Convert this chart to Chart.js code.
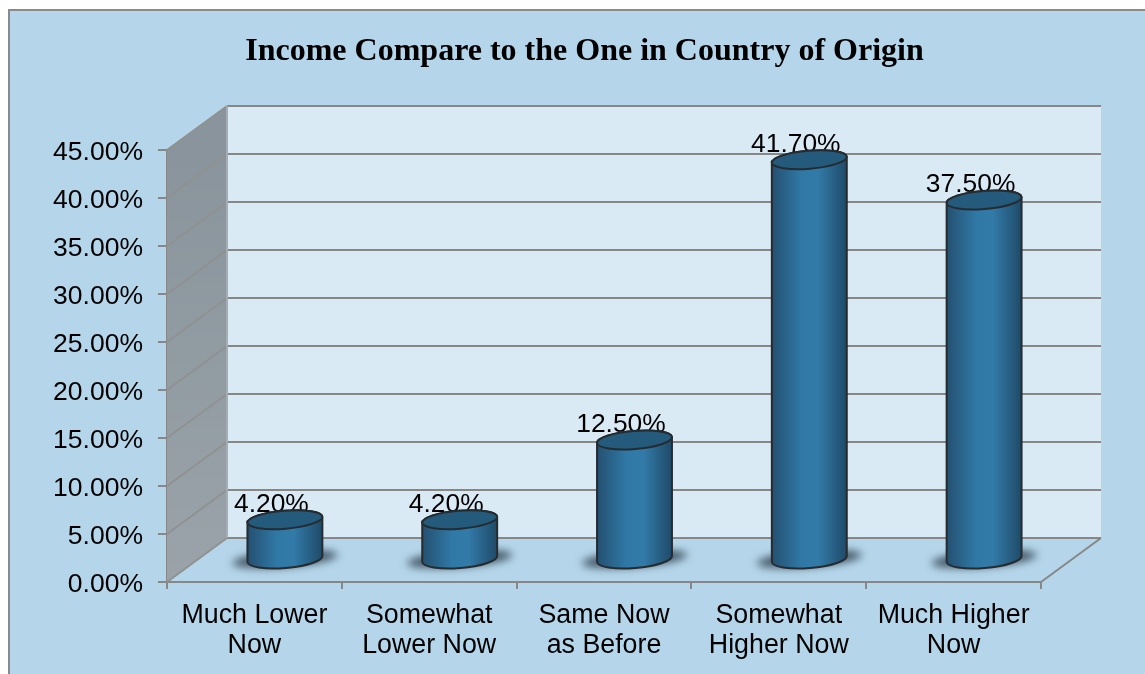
<!DOCTYPE html>
<html>
<head>
<meta charset="utf-8">
<script src="https://cdn.jsdelivr.net/npm/chart.js@4"></script>
<style>
html, body { margin: 0; background: #fff; overflow: hidden; height: 100%; }
#frame { position: absolute; left: 8px; top: 9px; width: 1149px; height: 663px; background: #b5d6ea; border-left: 2px solid #8a8a8a; border-top: 2px solid #8a8a8a; }
</style>
</head>
<body>
<div id="frame"><canvas id="incomeChart" width="1149" height="663"></canvas></div>
<script>
const categories = [['Much Lower', 'Now'], ['Somewhat', 'Lower Now'], ['Same Now', 'as Before'], ['Somewhat', 'Higher Now'], ['Much Higher', 'Now']];
const incomeValues = [4.2, 4.2, 12.5, 41.7, 37.5];
const chartTitle = 'Income Compare to the One in Country of Origin';

const depthX = 60;
const depthY = 44;
const lineColor = '#878787';

// title is centred on the whole canvas, not on the padded area
const titlePlugin = {
    id: 'titleSpan',
    afterLayout(chart) {
        chart.titleBlock.left = 0;
        chart.titleBlock.right = chart.width;
    }
};

// back wall, side wall and floor, using the axis pixels
const wallsPlugin = {
    id: 'walls',
    beforeDatasetsDraw(chart) {
        const ctx = chart.ctx;
        const x = chart.scales.x;
        const y = chart.scales.y;
        const top = y.getPixelForValue(45);
        const bottom = y.getPixelForValue(0);
        ctx.save();
        ctx.fillStyle = '#daeaf5';
        ctx.fillRect(x.left + depthX, top - depthY, x.width, bottom - top);

        const side = ctx.createLinearGradient(0, top, 0, bottom);
        side.addColorStop(0, '#89949c');
        side.addColorStop(1, '#9aa3a9');
        ctx.fillStyle = side;
        ctx.beginPath();
        ctx.moveTo(x.left, bottom);
        ctx.lineTo(x.left + depthX, bottom - depthY);
        ctx.lineTo(x.left + depthX, top - depthY);
        ctx.lineTo(x.left, top);
        ctx.closePath();
        ctx.fill();

        ctx.lineWidth = 2;
        y.ticks.forEach(function (t) {
            const py = y.getPixelForValue(t.value);
            ctx.strokeStyle = '#8f9290';
            ctx.beginPath();
            ctx.moveTo(x.left, py);
            ctx.lineTo(x.left + depthX, py - depthY);
            ctx.stroke();
            ctx.strokeStyle = lineColor;
            ctx.beginPath();
            ctx.moveTo(x.left + depthX, py - depthY);
            ctx.lineTo(x.right + depthX, py - depthY);
            ctx.stroke();
        });
        ctx.strokeStyle = '#a4adb3';
        ctx.beginPath();
        ctx.moveTo(x.left + depthX, top - depthY);
        ctx.lineTo(x.left + depthX, bottom - depthY);
        ctx.stroke();
        ctx.strokeStyle = lineColor;
        ctx.beginPath();
        ctx.moveTo(x.right, bottom);
        ctx.lineTo(x.right + depthX, bottom - depthY);
        ctx.stroke();
        ctx.restore();
    }
};

// cylinders sit halfway into the floor depth
const cylinderPlugin = {
    id: 'cylinders',
    afterDatasetsDraw(chart) {
        const ctx = chart.ctx;
        const bars = chart.getDatasetMeta(0).data;
        const tilt = -4.6 * Math.PI / 180;
        const ry = 9;
        ctx.save();

        bars.forEach(function (bar) {
            const cx = bar.x + depthX / 2 + 0.5;
            const baseY = bar.base - depthY / 2;
            ctx.save();
            ctx.filter = 'blur(4px)';
            ctx.fillStyle = 'rgba(25,40,55,0.75)';
            ctx.beginPath();
            ctx.ellipse(cx, baseY, bar.width * 0.7, 8, tilt, 0, Math.PI * 2);
            ctx.fill();
            ctx.restore();
        });

        ctx.font = '26.4px "Liberation Sans"';
        ctx.fillStyle = '#000';
        ctx.textAlign = 'center';
        ctx.textBaseline = 'alphabetic';
        bars.forEach(function (bar, i) {
            const cx = bar.x + depthX / 2 + 0.5;
            const topY = bar.y - depthY / 2;
            ctx.fillText(incomeValues[i].toFixed(2) + '%', cx - 13.5, topY - 8);
        });

        bars.forEach(function (bar) {
            const cx = bar.x + depthX / 2 + 0.5;
            const baseY = bar.base - depthY / 2;
            const topY = bar.y - depthY / 2;
            const rx = bar.width / 2;
            const body = ctx.createLinearGradient(cx - rx, 0, cx + rx, 0);
            body.addColorStop(0, '#245070');
            body.addColorStop(0.4, '#3079a7');
            body.addColorStop(0.62, '#327aa8');
            body.addColorStop(1, '#1f4a68');
            ctx.fillStyle = body;
            ctx.strokeStyle = '#262b30';
            ctx.lineWidth = 2;
            ctx.beginPath();
            ctx.ellipse(cx, baseY, rx, ry, tilt, 0, Math.PI);
            ctx.ellipse(cx, topY, rx, ry, tilt, Math.PI, Math.PI * 2);
            ctx.closePath();
            ctx.fill();
            ctx.stroke();
            ctx.fillStyle = '#245b7c';
            ctx.beginPath();
            ctx.ellipse(cx, topY, rx, ry, tilt, 0, Math.PI * 2);
            ctx.fill();
            ctx.stroke();
        });
        ctx.restore();
    }
};

new Chart(document.getElementById('incomeChart'), {
    type: 'bar',
    data: {
        labels: categories,
        datasets: [{
            label: 'Income',
            data: incomeValues,
            backgroundColor: 'transparent',
            borderWidth: 0,
            barPercentage: 0.43,
            categoryPercentage: 1
        }]
    },
    options: {
        responsive: false,
        animation: false,
        layout: { padding: { right: 118 } },
        scales: {
            x: {
                afterFit: function (s) { s.height = 92; },
                border: { color: lineColor, width: 2 },
                grid: { drawOnChartArea: false, color: lineColor, lineWidth: 2, tickLength: 7, offset: true },
                ticks: {
                    color: '#000',
                    maxRotation: 0,
                    autoSkip: false,
                    padding: 12,
                    font: { family: '"Liberation Sans"', size: 26.8, lineHeight: 1.12 }
                }
            },
            y: {
                min: 0,
                max: 45,
                afterFit: function (s) { s.width = 157; },
                border: { color: lineColor, width: 2 },
                grid: { drawOnChartArea: false, color: lineColor, lineWidth: 2, tickLength: 9 },
                ticks: {
                    stepSize: 5,
                    color: '#000',
                    padding: 15,
                    labelOffset: 3,
                    font: { family: '"Liberation Sans"', size: 26.5 },
                    callback: function (v) { return v.toFixed(2) + '%'; }
                }
            }
        },
        plugins: {
            legend: { display: false },
            tooltip: { enabled: false },
            title: {
                display: true,
                text: chartTitle,
                color: '#000',
                font: { family: '"Liberation Serif"', size: 32, weight: 'bold', lineHeight: 1.2 },
                padding: { top: 22, bottom: 78.6 }
            }
        }
    },
    plugins: [titlePlugin, wallsPlugin, cylinderPlugin]
});
</script>
</body>
</html>
